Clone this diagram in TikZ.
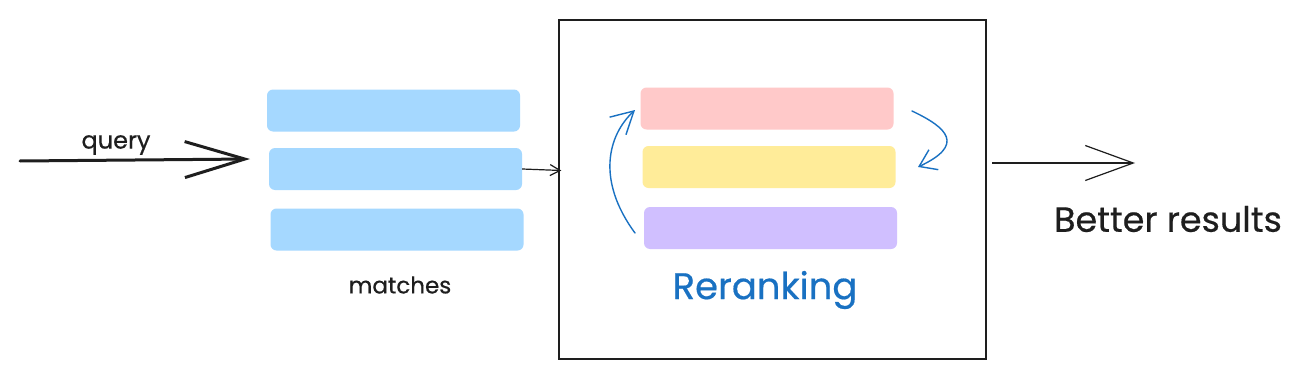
\documentclass[tikz,border=0pt]{standalone}
\usepackage{fontspec}
\setmainfont{Poppins}[FakeBold=0.5]
\usetikzlibrary{arrows.meta,calc}
\definecolor{barblue}{HTML}{A5D8FF}
\definecolor{barpink}{HTML}{FFC9C9}
\definecolor{baryellow}{HTML}{FFEC99}
\definecolor{barpurple}{HTML}{D0BFFF}
\definecolor{inkblue}{HTML}{1971C2}
\definecolor{ink}{HTML}{1E1E1E}
\tikzset{
  bar/.style={rounded corners=6pt, minimum width=253pt, minimum height=42pt, inner sep=0pt, draw=none},
  lbl/.style={text=ink, inner sep=0pt, anchor=center},
  bluearrow/.style={draw=inkblue, line width=1.4pt, line cap=round, -{Straight Barb[length=22pt,width=24pt,line width=1.4pt]}},
}
\begin{document}
\begin{tikzpicture}[x=1pt,y=-1pt]
\useasboundingbox[fill=white] (0,0) rectangle (1304,380);
% matches bars
\node[bar, fill=barblue] (m1) at (393.5,110.5) {};
\node[bar, fill=barblue] (m2) at (395.5,169) {};
\node[bar, fill=barblue] (m3) at (397,229.5) {};
\node[lbl, font=\fontsize{23}{26}\selectfont] (mlbl) at (400,285) {matches};
% query arrow
\coordinate (qs) at (20,161);
\coordinate (qe) at (250,159);
\draw[ink, line width=3pt, line cap=round, -{Straight Barb[length=60pt,width=36pt,line width=3pt]}] (qs) -- (qe);
\node[lbl, font=\fontsize{24}{26}\selectfont] (qlbl) at (116,145) {query};
% reranking box
\node[draw=ink, line width=1.4pt, minimum width=427pt, minimum height=339pt, inner sep=0pt] (rbox) at (772.5,189.5) {};
\draw[ink, line width=1.2pt, -{Straight Barb[length=10pt,width=11pt,line width=1.2pt]}] (m2.east) -- ($(rbox.west)+(3,-19)$);
% ranked bars
\node[bar, fill=barpink] (r1) at (767,108.5) {};
\node[bar, fill=baryellow] (r2) at (769,167) {};
\node[bar, fill=barpurple] (r3) at (770.5,228) {};
\node[lbl, text=inkblue, font=\fontsize{37}{40}\selectfont] (rlbl) at (765,290) {Reranking};
% curved arrows
\coordinate (la) at (635,233);
\coordinate (lb) at (635,110);
\draw[bluearrow] (la) .. controls (596,180) and (608,135) .. (lb);
\coordinate (ra) at (912,111);
\coordinate (rb) at (918,167);
\draw[draw=inkblue, line width=1.4pt, line cap=round, -{Straight Barb[length=16pt,width=22pt,line width=1.4pt]}] (ra) .. controls (948,128) and (965,145) .. (rb);
% output arrow
\coordinate (os) at (992,163);
\coordinate (oe) at (1135,163);
\draw[ink, line width=1.2pt, -{Straight Barb[length=48pt,width=35pt,line width=1.2pt]}] (os) -- (oe);
\node[lbl, font=\fontsize{35}{38}\selectfont] (out) at (1168,219) {Better results};
\end{tikzpicture}
\end{document}
